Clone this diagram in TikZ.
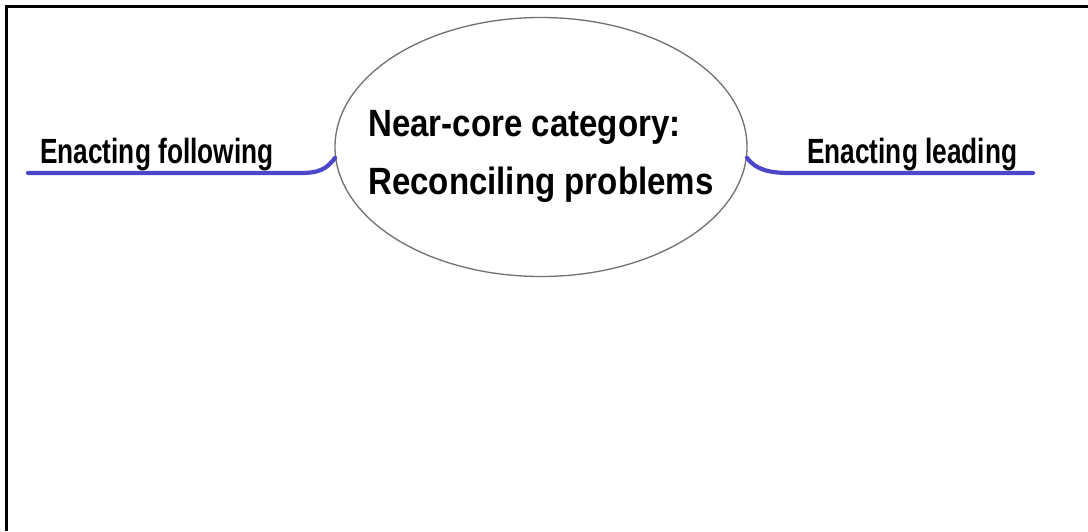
\documentclass[tikz,border=0pt]{standalone}
\usepackage{fontspec}
\setmainfont{Liberation Sans}
\newfontfamily\branchfont[FakeStretch=0.75]{Liberation Sans}
\newfontfamily\corefont[FakeStretch=0.87]{Liberation Sans}
\usetikzlibrary{shapes.geometric}
\definecolor{branchblue}{HTML}{4A48C8}
\definecolor{rimgray}{HTML}{707070}
\tikzset{
  frame/.style={line width=2.5pt, black},
  corebox/.style={ellipse, draw=rimgray, line width=1.3pt, fill=white,
    minimum width=412pt, minimum height=259pt, inner sep=0pt},
  coretext/.style={anchor=north west, inner sep=0pt, align=left,
    font=\corefont\bfseries\fontsize{38}{58}\selectfont},
  branchlabel/.style={anchor=base west, inner sep=0pt,
    font=\branchfont\bfseries\fontsize{35}{40}\selectfont},
  branch/.style={draw=branchblue, line width=4.2pt, line cap=round}
}
\begin{document}
\begin{tikzpicture}[x=1pt,y=-1pt]
\useasboundingbox (0,0) rectangle (1088,531);
\fill[white] (0,0) rectangle (1088,531);

% outer frame, open to the right and bottom
\draw[frame] (1088,6.5) -- (6.5,6.5) -- (6.5,531);

% central topic
\node[corebox] (core) at (541,147) {};
\node[coretext] (coretitle) at (368,110) {Near-core category:\\Reconciling problems};

% branch ends
\coordinate (lbend) at (300,173);
\coordinate (lend) at (28,173);
\coordinate (rbend) at (790,173);
\coordinate (rend) at (1033,173);

% branches
\draw[branch] (core.183) .. controls (326,170) and (318,173) .. (lbend) -- (lend);
\draw[branch] (core.-3) .. controls (756,170) and (770,173) .. (rbend) -- (rend);

% branch labels
\node[branchlabel] (follow) at (40,163) {Enacting following};
\node[branchlabel] (lead) at (807,163) {Enacting leading};
\end{tikzpicture}
\end{document}
